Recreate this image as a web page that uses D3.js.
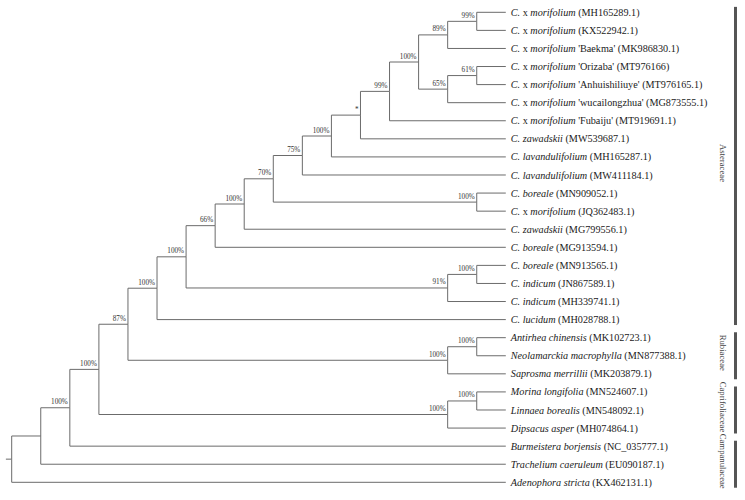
<!DOCTYPE html>
<html><head><meta charset="utf-8">
<script src="https://cdn.jsdelivr.net/npm/d3@7"></script>
<style>
html,body{margin:0;padding:0;background:#fff;}
svg{display:block;}
text{font-family:"Liberation Serif","Times New Roman",serif;white-space:pre;}
</style>
</head><body>
<svg id="chart" width="745" height="500"></svg>
<script>
// ---- data ----
const taxonNames = [
  "C. x morifolium","C. x morifolium","C. x morifolium","C. x morifolium","C. x morifolium",
  "C. x morifolium","C. x morifolium","C. zawadskii","C. lavandulifolium","C. lavandulifolium",
  "C. boreale","C. x morifolium","C. zawadskii","C. boreale","C. boreale","C. indicum",
  "C. indicum","C. lucidum","Antirhea chinensis","Neolamarckia macrophylla","Saprosma merrillii",
  "Morina longifolia","Linnaea borealis","Dipsacus asper","Burmeistera borjensis",
  "Trachelium caeruleum","Adenophora stricta"
];
const cultivars = [
  "","","'Baekma'","'Orizaba'","'Anhuishiliuye'","'wucailongzhua'","'Fubaiju'",
  "","","","","","","","","","","","","","","","","","","",""
];
const accessions = [
  "MH165289.1","KX522942.1","MK986830.1","MT976166","MT976165.1","MG873555.1","MT919691.1",
  "MW539687.1","MH165287.1","MW411184.1","MN909052.1","JQ362483.1","MG799556.1","MG913594.1",
  "MN913565.1","JN867589.1","MH339741.1","MH028788.1","MK102723.1","MN877388.1","MK203879.1",
  "MN524607.1","MN548092.1","MH074864.1","NC_035777.1","EU090187.1","KX462131.1"
];
// topology: leaf indices, internal node labels = bootstrap support
const topology = "(((((" + "(((((" + "(((((" + "((" +
  "0,1)99%,2)89%,((3,4)61%,5)65%)100%,6)99%,7)*,8)100%,9)75%,(10,11)100%)70%,12)100%,13)66%," +
  "((14,15)100%,16)91%)100%,17)100%,((18,19)100%,20)100%)87%,((21,22)100%,23)100%)100%,24)100%,25),26)";
const families = ["Asteraceae","Rubiaceae","Caprifoliaceae","Campanulaceae"];
const familyFirst = [0,18,21,24];
const familyLast  = [17,20,23,26];

// ---- parse ----
function parseNewick(s){
  let i = 0;
  function node(){
    if (s[i] === "("){
      i++;
      const children = [node()];
      while (s[i] === ","){ i++; children.push(node()); }
      i++; // ')'
      let label = "";
      while (i < s.length && ",)".indexOf(s[i]) < 0) label += s[i++];
      return {children, support: label};
    }
    let t = "";
    while (i < s.length && ",)".indexOf(s[i]) < 0) t += s[i++];
    return {leaf: +t};
  }
  return node();
}

const root = d3.hierarchy(parseNewick(topology), d => d.children);
d3.cluster().nodeSize([1,1]).separation(() => 1)(root);

const leaves = root.leaves();
const ys = d3.scaleLinear().domain(d3.extent(leaves, d => d.x)).range([12.3, 482.3]);
const xs = d3.scaleLinear().domain([0, root.height]).range([11.7, 505.8]);
const idxScale = d3.scaleLinear().domain([0, leaves.length - 1]).range(ys.range());

const svg = d3.select("#chart");
const g = svg.append("g").attr("opacity", 0.999);

// branches
g.append("g").selectAll("path").data(root.links()).join("path")
  .attr("d", l => `M${xs(l.source.y)},${ys(l.source.x)}V${ys(l.target.x)}H${xs(l.target.y)}`)
  .attr("fill","none").attr("stroke","#6b6b6b").attr("stroke-width",1);

// root stub
g.append("path")
  .attr("d", `M${xs(-0.2)},${ys(root.x)}H${xs(0)}`)
  .attr("stroke","#6b6b6b").attr("stroke-width",1);

// support labels
g.append("g").selectAll("text")
  .data(root.descendants().filter(d => d.children && d.data.support))
  .join("text")
  .attr("x", d => xs(d.y) - 2)
  .attr("y", d => ys(d.x) - 3.5)
  .attr("text-anchor","end")
  .attr("font-size", 7.2)
  .attr("fill","#333")
  .text(d => d.data.support);

// leaf labels
const lab = g.append("g").selectAll("text").data(leaves).join("text")
  .attr("x", d => xs(d.y) + 5)
  .attr("y", d => ys(d.x))
  .attr("dy","0.35em")
  .attr("font-size", 10.2)
  .attr("fill","#1a1a1a");
lab.each(function(d){
  const k = d.data.leaf;
  const t = d3.select(this);
  const parts = taxonNames[k].split(" ");
  parts.forEach((p, j) => {
    const upright = (p === "x");
    t.append("tspan").attr("font-style", upright ? "normal" : "italic")
      .text((j ? " " : "") + p);
  });
  if (cultivars[k]) t.append("tspan").text(" " + cultivars[k]);
  t.append("tspan").text(" (" + accessions[k] + ")");
});

// family bars + labels
const fam = g.append("g").selectAll("g").data(families).join("g");
fam.append("rect")
  .attr("x", 734).attr("width", 3)
  .attr("y", (d,i) => idxScale(familyFirst[i] - 0.3))
  .attr("height", (d,i) => idxScale(familyLast[i] + 0.3) - idxScale(familyFirst[i] - 0.3))
  .attr("fill","#555");
fam.append("text")
  .attr("transform", (d,i) => `translate(723,${(idxScale(familyFirst[i]-0.3)+idxScale(familyLast[i]+0.3))/2 - 3}) rotate(90)`)
  .attr("text-anchor","middle")
  .attr("dominant-baseline","central")
  .attr("font-size", 8.7)
  .attr("fill","#444")
  .text(d => d);
</script>
</body></html>
